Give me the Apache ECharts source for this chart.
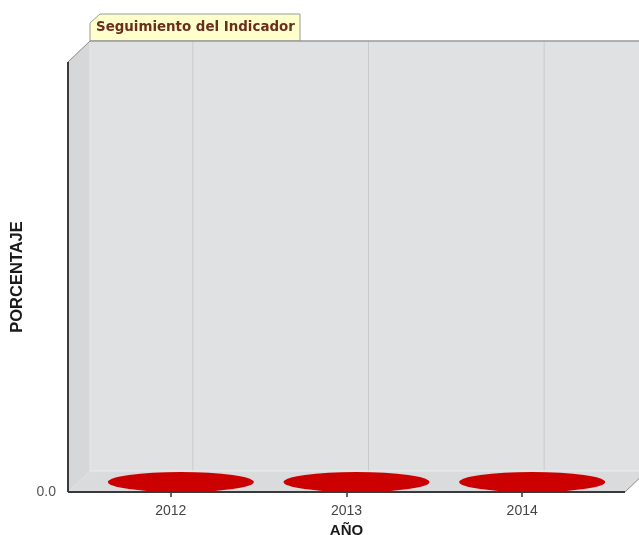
<!DOCTYPE html>
<html><head><meta charset="utf-8">
<script src="https://cdn.jsdelivr.net/npm/echarts@6/dist/echarts.min.js"></script>
<style>html,body{margin:0;padding:0;background:#fff}#c{width:639px;height:535px}</style>
</head><body><div id="c"></div>
<script>
const categories = ['2012', '2013', '2014'];
const values = [0, 0, 0];
const yTickLabels = ['0.0'];
const titleText = 'Seguimiento del Indicador';
const xName = 'AÑO';
const yName = 'PORCENTAJE';

const DX = 22, DY = 21, EXT = 15;

function renderBackdrop(params, api) {
  const cs = params.coordSys;
  const L = cs.x - EXT, R = cs.x + cs.width + EXT, T = cs.y, B = cs.y + cs.height;
  const ch = [];
  ch.push({type: 'rect', shape: {x: L + DX, y: T - DY, width: 800, height: cs.height}, style: {fill: '#e0e1e3'}});
  ch.push({type: 'polygon', shape: {points: [[L, T], [L + DX, T - DY], [L + DX, B - DY], [L, B]]}, style: {fill: '#d6d7d9'}});
  ch.push({type: 'polygon', shape: {points: [[L, B], [L + DX, B - DY], [R + DX, B - DY], [R, B]]}, style: {fill: '#dadbdd'}});
  for (let i = 0; i < categories.length; i++) {
    const p = api.coord([i, 0]);
    ch.push({type: 'line', shape: {x1: p[0] + DX, y1: T - DY, x2: p[0] + DX, y2: B - DY}, style: {stroke: '#c9cacc', lineWidth: 1}});
  }
  ch.push({type: 'line', shape: {x1: L + DX, y1: B - DY, x2: R + DX, y2: B - DY}, style: {stroke: '#eeeeee', lineWidth: 1}});
  ch.push({type: 'line', shape: {x1: L + DX, y1: T - DY, x2: L + DX, y2: B - DY}, style: {stroke: '#e6e7e9', lineWidth: 1}});
  ch.push({type: 'line', shape: {x1: L + DX, y1: T - DY, x2: 800, y2: T - DY}, style: {stroke: '#9a9a9a', lineWidth: 1.5}});
  ch.push({type: 'line', shape: {x1: L, y1: T, x2: L + DX, y2: T - DY}, style: {stroke: '#8a8a8a', lineWidth: 1}});
  ch.push({type: 'line', shape: {x1: R, y1: B, x2: R + DX, y2: B - DY}, style: {stroke: '#8a8a8a', lineWidth: 1}});
  ch.push({type: 'line', shape: {x1: L, y1: T, x2: L, y2: B}, style: {stroke: '#3a3a3a', lineWidth: 2}});
  ch.push({type: 'line', shape: {x1: L, y1: B, x2: R, y2: B}, style: {stroke: '#3a3a3a', lineWidth: 2}});
  return {type: 'group', children: ch};
}

const chart = echarts.init(document.getElementById('c'), null, {renderer: 'canvas'});
chart.setOption({
  animation: false,
  backgroundColor: '#ffffff',
  grid: {left: 83, right: 29, top: 62, bottom: 43, containLabel: false, outerBoundsMode: 'none'},
  xAxis: {
    type: 'category', data: categories, boundaryGap: true,
    axisLine: {show: false},
    axisTick: {show: true, alignWithLabel: true, length: 5, lineStyle: {color: '#333', width: 1.5}},
    axisLabel: {margin: 12, fontSize: 14, color: '#444', fontFamily: 'Liberation Sans'},
    splitLine: {show: false},
    name: xName, nameLocation: 'middle', nameGap: 28,
    nameTextStyle: {fontSize: 15, fontWeight: 'bold', color: '#1a1a1a', fontFamily: 'Liberation Sans'}
  },
  yAxis: {
    type: 'value', min: 0, max: 1, interval: 1,
    axisLine: {show: false}, axisTick: {show: false}, splitLine: {show: false},
    axisLabel: {margin: 27, fontSize: 14, color: '#555', fontFamily: 'Liberation Sans',
      formatter: v => (v === 0 ? yTickLabels[0] : '')},
    name: yName, nameLocation: 'middle', nameGap: 55,
    nameTextStyle: {fontSize: 16.5, fontWeight: 'bold', color: '#1a1a1a', fontFamily: 'Liberation Sans'}
  },
  graphic: [{
    type: 'group', z: 10,
    children: [
      {type: 'polygon', shape: {points: [[100, 14], [300, 14], [300, 41], [90, 41], [90, 23]]},
        style: {fill: '#ffffcc', stroke: '#9a9a9a', lineWidth: 1}},
      {type: 'text', style: {x: 96, y: 28, text: titleText, verticalAlign: 'middle',
        font: 'bold 13.4px "DejaVu Sans"', fill: '#6b2d1e'}}
    ]
  }],
  series: [
    {type: 'custom', renderItem: renderBackdrop, data: [[0, 0]], clip: false, silent: true, z: 1},
    {type: 'scatter', data: values, symbol: 'circle', symbolSize: [146, 20], symbolOffset: [10, -10],
      itemStyle: {color: '#cc0000', opacity: 1}, silent: true, z: 3}
  ]
});
</script></body></html>
